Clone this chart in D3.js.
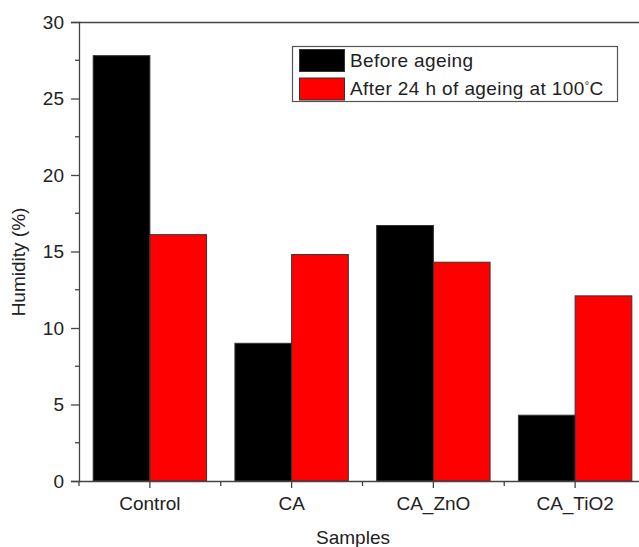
<!DOCTYPE html>
<html><head><meta charset="utf-8">
<script src="https://cdn.jsdelivr.net/npm/d3@7"></script>
<style>body{margin:0;background:#fff}svg{display:block}text{font-family:"Liberation Sans",Arial,sans-serif;fill:#222}</style>
</head><body><svg id="c" width="639" height="547"></svg>
<script>
const categories = ["Control", "CA", "CA_ZnO", "CA_TiO2"];
const seriesNames = ["Before ageing", "After 24 h of ageing at 100°C"];
const beforeAgeing = [27.8, 9.0, 16.7, 4.3];
const afterAgeing = [16.1, 14.8, 14.3, 12.1];
const colors = ["#000000", "#ff0000"];
const yTicks = [0, 5, 10, 15, 20, 25, 30];

const svg = d3.select("#c");
const mLeft = 79, mRight = 646, mTop = 22, mBottom = 481;
const x = d3.scaleBand().domain(categories).range([mLeft, mRight]).paddingInner(0.2).paddingOuter(0.1);
const xs = d3.scaleBand().domain([0, 1]).range([0, x.bandwidth()]);
const y = d3.scaleLinear().domain([0, 30]).range([mBottom, mTop]);
const axisColor = "#444";
const fs = 19;
const ff = '"Liberation Sans",Arial,sans-serif';

// bars
const series = [beforeAgeing, afterAgeing];
series.forEach((vals, si) => {
  svg.append("g").selectAll("rect").data(categories).join("rect")
    .attr("x", d => x(d) + xs(si))
    .attr("y", (d, i) => y(vals[i]))
    .attr("width", xs.bandwidth())
    .attr("height", (d, i) => y(0) - y(vals[i]))
    .attr("fill", colors[si])
    .attr("stroke", "#333").attr("stroke-width", 1);
});

// top border
svg.append("line").attr("x1", mLeft).attr("x2", 639).attr("y1", mTop + 0.5).attr("y2", mTop + 0.5)
  .attr("stroke", axisColor).attr("stroke-width", 1.3);

// y axis
const yAxis = d3.axisLeft(y).tickValues(yTicks).tickSize(8).tickPadding(7);
const gy = svg.append("g").attr("transform", `translate(${mLeft},0)`).call(yAxis);
gy.select(".domain").attr("stroke", axisColor).attr("stroke-width", 1.3);
gy.selectAll(".tick line").attr("stroke", axisColor).attr("stroke-width", 1.3);
gy.selectAll(".tick text").attr("font-size", fs).attr("fill", "#222").style("font-family", ff);
// minor y ticks
const yMinor = d3.range(2.5, 30, 5);
svg.append("g").selectAll("line").data(yMinor).join("line")
  .attr("x1", mLeft - 4).attr("x2", mLeft).attr("y1", d => y(d)).attr("y2", d => y(d))
  .attr("stroke", axisColor).attr("stroke-width", 1.3);

// x axis
const xAxis = d3.axisBottom(x).tickSize(7).tickPadding(9).tickSizeOuter(0);
const gx = svg.append("g").attr("transform", `translate(0,${mBottom})`).call(xAxis);
gx.select(".domain").attr("stroke", axisColor).attr("stroke-width", 1.3);
gx.selectAll(".tick line").attr("stroke", axisColor).attr("stroke-width", 1.3);
gx.selectAll(".tick text").attr("font-size", fs).attr("fill", "#222").style("font-family", ff);
// minor x ticks at band boundaries
const step = x.step();
const xMinor = categories.map(c => x(c) + x.bandwidth() / 2 - step / 2);
svg.append("g").selectAll("line").data(xMinor).join("line")
  .attr("x1", d => d).attr("x2", d => d).attr("y1", mBottom).attr("y2", mBottom + 5)
  .attr("stroke", axisColor).attr("stroke-width", 1.3);

// axis titles
svg.append("text").attr("x", 353).attr("y", 544).attr("text-anchor", "middle").attr("font-size", fs).text("Samples");
svg.append("text").attr("transform", "translate(25,262) rotate(-90)").attr("text-anchor", "middle").attr("font-size", fs).text("Humidity (%)");

// legend
const lg = svg.append("g");
lg.append("rect").attr("x", 292.5).attr("y", 46.5).attr("width", 325).attr("height", 55)
  .attr("fill", "#fff").attr("stroke", "#555").attr("stroke-width", 1.2);
seriesNames.forEach((n, i) => {
  lg.append("rect").attr("x", 299.5).attr("y", 49.5 + i * 28.5).attr("width", 45).attr("height", 22)
    .attr("fill", colors[i]).attr("stroke", "#333").attr("stroke-width", 1);
  const t = lg.append("text").attr("x", 350).attr("y", 66.5 + i * 28).attr("font-size", fs)
    .attr("letter-spacing", 0.4);
  if (n.includes("°")) {
    const parts = n.split("°");
    t.append("tspan").text(parts[0]);
    t.append("tspan").attr("dy", -6).attr("font-size", 11).text("°");
    t.append("tspan").attr("dy", 6).text(parts[1]);
  } else t.text(n);
});
</script></body></html>
